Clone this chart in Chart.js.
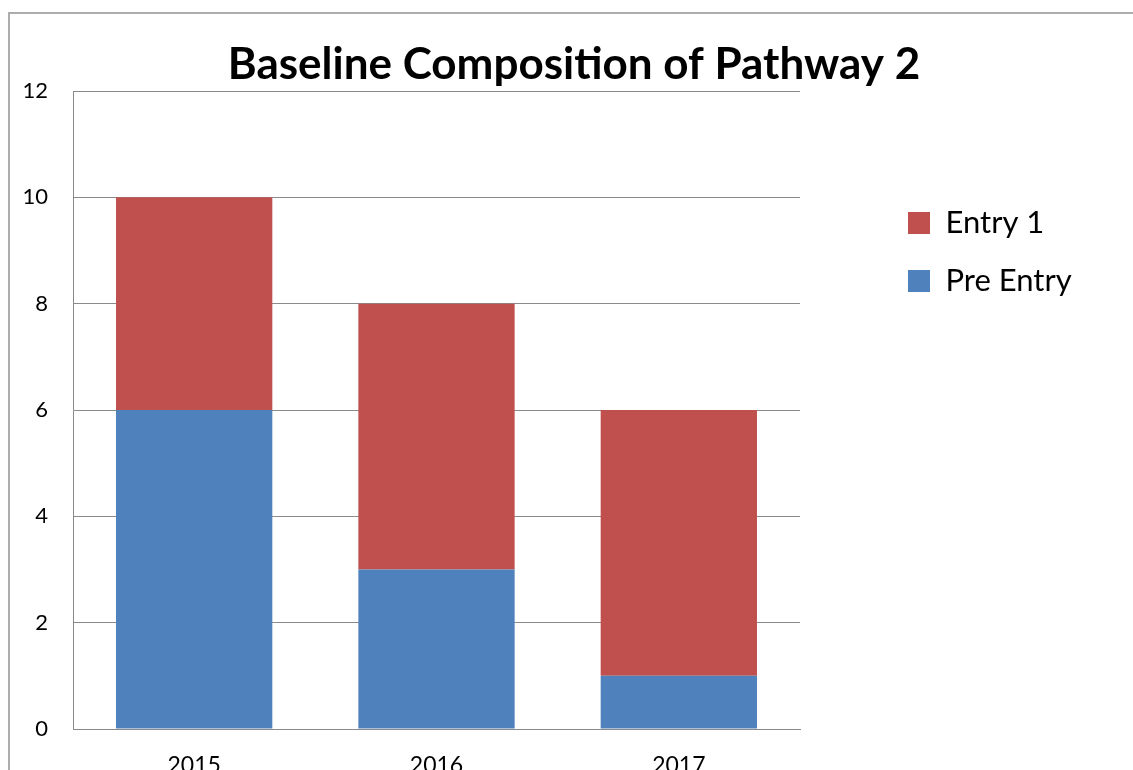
<!DOCTYPE html>
<html><head><meta charset="utf-8">
<script src="https://cdn.jsdelivr.net/npm/chart.js@4/dist/chart.umd.min.js"></script>
<style>
html,body{margin:0;padding:0;background:#fff;overflow:hidden}
#wrap{position:relative;width:1133px;height:770px;overflow:hidden}
#frame{position:absolute;left:8px;top:12px;width:1200px;height:800px;border-left:2px solid #adadad;border-top:2px solid #adadad}
canvas{position:absolute;left:0;top:0}
</style></head><body>
<div id="wrap"><div id="frame"></div><canvas id="c" width="1133" height="770"></canvas></div>
<script>
const categories = ['2015', '2016', '2017'];
const preEntry = [6, 3, 1];
const entry1 = [4, 5, 5];
const yMin = 0, yMax = 12, yStep = 2;
const titleText = 'Baseline Composition of Pathway 2';
const FONT = 'Lato, "Open Sans", sans-serif';

const legendPlace = {
  id: 'legendPlace',
  beforeLayout(chart) {
    const lg = chart.legend;
    if (lg && !lg._patched) {
      const f = lg.fit;
      lg.fit = function () { f.call(this); this.width = 333; };
      lg._patched = true;
    }
  },
  afterLayout(chart) {
    const lg = chart.legend;
    if (!lg) return;
    const dx = 881 - lg.left, dy = 180.5 - lg.top;
    lg.left += dx; lg.right += dx; lg.top += dy; lg.bottom += dy;
  }
};

new Chart(document.getElementById('c'), {
  type: 'bar',
  data: {
    labels: categories,
    datasets: [
      { label: 'Pre Entry', data: preEntry, backgroundColor: '#4F81BD', borderWidth: 0 },
      { label: 'Entry 1', data: entry1, backgroundColor: '#C0504D', borderWidth: 0 }
    ]
  },
  options: {
    responsive: false,
    animation: false,
    layout: { padding: { left: 15, right: 0, top: 0, bottom: 0 } },
    datasets: { bar: { categoryPercentage: 1, barPercentage: 0.645 } },
    plugins: {
      title: {
        display: true, text: titleText, color: '#000',
        font: { family: FONT, size: 44, weight: 'bold' },
        padding: { top: 38.2, bottom: 0 }
      },
      legend: {
        display: true, position: 'right', align: 'start', reverse: true,
        labels: {
          boxWidth: 22, boxHeight: 22, padding: 27, color: '#000',
          font: { family: FONT, size: 31 }
        }
      },
      tooltip: { enabled: false }
    },
    scales: {
      x: {
        stacked: true,
        grid: { display: false, drawTicks: false },
        border: { color: '#8a8a8a', width: 1 },
        ticks: { padding: 23, color: '#000', font: { family: FONT, size: 23 } },
        afterFit(s) { s.height = 41; }
      },
      y: {
        stacked: true, min: yMin, max: yMax,
        ticks: { stepSize: yStep, padding: 25, color: '#000', font: { family: FONT, size: 22 } },
        grid: { color: '#8a8a8a', drawTicks: false },
        border: { color: '#8a8a8a', width: 1 },
        afterFit(s) { s.width = 58; }
      }
    }
  },
  plugins: [legendPlace]
});
</script>
</body></html>
